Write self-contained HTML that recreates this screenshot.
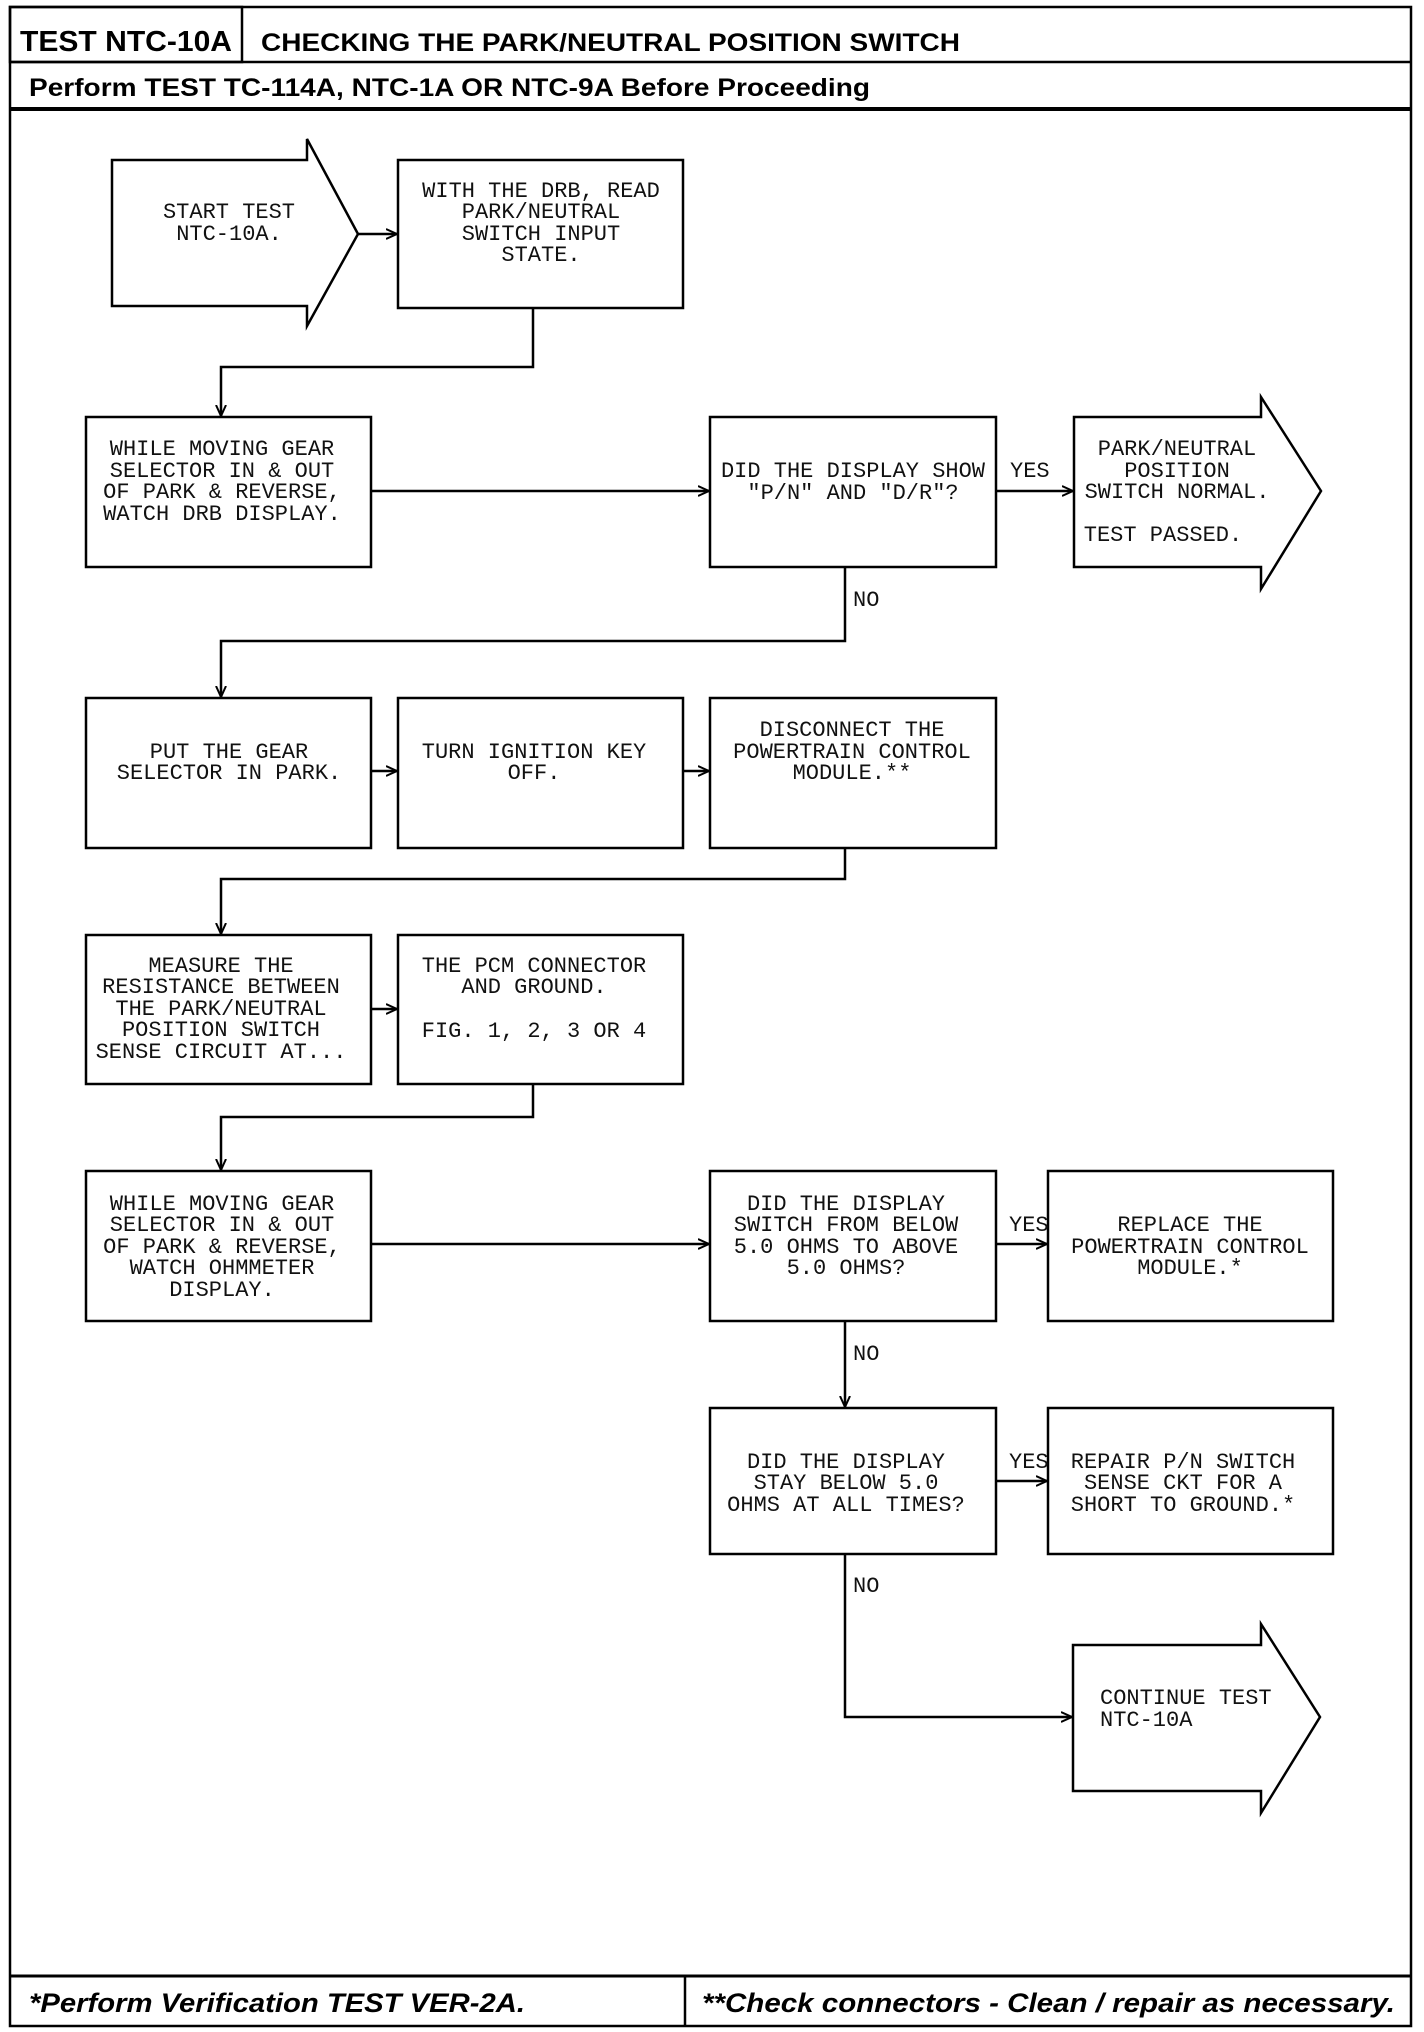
<!DOCTYPE html>
<html><head><meta charset="utf-8"><style>
html,body{margin:0;padding:0;background:#fff}
svg{display:block}
.t{font-family:"Liberation Mono",monospace;font-size:22px;fill:#111}
.h{font-family:"Liberation Sans",sans-serif;font-weight:bold;fill:#000}
.f{font-family:"Liberation Sans",sans-serif;font-weight:bold;font-style:italic;fill:#000;font-size:27px}
</style></head><body>
<svg width="1424" height="2032" viewBox="0 0 1424 2032" xmlns="http://www.w3.org/2000/svg">
<defs><marker id="a" markerWidth="12" markerHeight="12" refX="11" refY="6" orient="auto" markerUnits="userSpaceOnUse"><path d="M0,1 L11,6 L0,11" fill="none" stroke="#000" stroke-width="2"/></marker></defs>
<g fill="none" stroke="#000" stroke-width="2.5">
<rect x="10" y="7" width="1401" height="2019"/>
<rect x="10" y="7" width="232" height="55"/>
<line x1="10" y1="62" x2="1411" y2="62"/>
<line x1="10" y1="109" x2="1411" y2="109" stroke-width="4"/>
<line x1="10" y1="1976" x2="1411" y2="1976" stroke-width="3"/>
<line x1="685" y1="1976" x2="685" y2="2026"/>
<!-- start arrow -->
<path d="M112,160 H307 V139 L358,234 L307,326 V306 H112 Z"/>
<rect x="398" y="160" width="285" height="148"/>
<rect x="86" y="417" width="285" height="150"/>
<rect x="710" y="417" width="286" height="150"/>
<path d="M1074,417 H1261 V397 L1321,491 L1261,589 V567 H1074 Z"/>
<rect x="86" y="698" width="285" height="150"/>
<rect x="398" y="698" width="285" height="150"/>
<rect x="710" y="698" width="286" height="150"/>
<rect x="86" y="935" width="285" height="149"/>
<rect x="398" y="935" width="285" height="149"/>
<rect x="86" y="1171" width="285" height="150"/>
<rect x="710" y="1171" width="286" height="150"/>
<rect x="1048" y="1171" width="285" height="150"/>
<rect x="710" y="1408" width="286" height="146"/>
<rect x="1048" y="1408" width="285" height="146"/>
<path d="M1073,1645 H1261 V1624 L1320,1717 L1261,1813 V1791 H1073 Z"/>
</g>
<g fill="none" stroke="#000" stroke-width="2.5" marker-end="url(#a)">
<line x1="358" y1="234" x2="397" y2="234"/>
<polyline points="533,308 533,367 221,367 221,416"/>
<line x1="371" y1="491" x2="709" y2="491"/>
<line x1="996" y1="491" x2="1073" y2="491"/>
<polyline points="845,567 845,641 221,641 221,697"/>
<line x1="371" y1="771" x2="397" y2="771"/>
<line x1="683" y1="771" x2="709" y2="771"/>
<polyline points="845,848 845,879 221,879 221,934"/>
<line x1="371" y1="1009" x2="397" y2="1009"/>
<polyline points="533,1084 533,1117 221,1117 221,1170"/>
<line x1="371" y1="1244" x2="709" y2="1244"/>
<line x1="996" y1="1244" x2="1047" y2="1244"/>
<line x1="845" y1="1321" x2="845" y2="1407"/>
<line x1="996" y1="1481" x2="1047" y2="1481"/>
<polyline points="845,1554 845,1717 1072,1717"/>
</g>
<text class="h" x="20" y="51" font-size="29" textLength="212" lengthAdjust="spacingAndGlyphs">TEST NTC-10A</text>
<text class="h" x="261" y="51" font-size="25" textLength="699" lengthAdjust="spacingAndGlyphs">CHECKING THE PARK/NEUTRAL POSITION SWITCH</text>
<text class="h" x="29" y="96" font-size="25" textLength="841" lengthAdjust="spacingAndGlyphs">Perform TEST TC-114A, NTC-1A OR NTC-9A Before Proceeding</text>
<text class="f" x="29" y="2012" textLength="496" lengthAdjust="spacingAndGlyphs">*Perform Verification TEST VER-2A.</text>
<text class="f" x="702" y="2012" textLength="693" lengthAdjust="spacingAndGlyphs">**Check connectors - Clean / repair as necessary.</text>
<g class="t" text-anchor="middle">
<text x="229" y="218">START TEST</text><text x="229" y="240">NTC-10A.</text>
<text x="541" y="197">WITH THE DRB, READ</text><text x="541" y="218">PARK/NEUTRAL</text><text x="541" y="240">SWITCH INPUT</text><text x="541" y="261">STATE.</text>
<text x="222" y="455">WHILE MOVING GEAR</text><text x="222" y="477">SELECTOR IN &amp; OUT</text><text x="222" y="498">OF PARK &amp; REVERSE,</text><text x="222" y="520">WATCH DRB DISPLAY.</text>
<text x="853" y="477">DID THE DISPLAY SHOW</text><text x="853" y="499">"P/N" AND "D/R"?</text>
<text x="1177" y="455">PARK/NEUTRAL</text><text x="1177" y="477">POSITION</text><text x="1177" y="498">SWITCH NORMAL.</text><text x="1163" y="541">TEST PASSED.</text>
<text x="229" y="758">PUT THE GEAR</text><text x="229" y="779">SELECTOR IN PARK.</text>
<text x="534" y="758">TURN IGNITION KEY</text><text x="534" y="779">OFF.</text>
<text x="852" y="736">DISCONNECT THE</text><text x="852" y="758">POWERTRAIN CONTROL</text><text x="852" y="779">MODULE.**</text>
<text x="221" y="972">MEASURE THE</text><text x="221" y="993">RESISTANCE BETWEEN</text><text x="221" y="1015">THE PARK/NEUTRAL</text><text x="221" y="1036">POSITION SWITCH</text><text x="221" y="1058">SENSE CIRCUIT AT...</text>
<text x="534" y="972">THE PCM CONNECTOR</text><text x="534" y="993">AND GROUND.</text><text x="534" y="1037">FIG. 1, 2, 3 OR 4</text>
<text x="222" y="1210">WHILE MOVING GEAR</text><text x="222" y="1231">SELECTOR IN &amp; OUT</text><text x="222" y="1253">OF PARK &amp; REVERSE,</text><text x="222" y="1274">WATCH OHMMETER</text><text x="222" y="1296">DISPLAY.</text>
<text x="846" y="1210">DID THE DISPLAY</text><text x="846" y="1231">SWITCH FROM BELOW</text><text x="846" y="1253">5.0 OHMS TO ABOVE</text><text x="846" y="1274">5.0 OHMS?</text>
<text x="1190" y="1231">REPLACE THE</text><text x="1190" y="1253">POWERTRAIN CONTROL</text><text x="1190" y="1274">MODULE.*</text>
<text x="846" y="1468">DID THE DISPLAY</text><text x="846" y="1489">STAY BELOW 5.0</text><text x="846" y="1511">OHMS AT ALL TIMES?</text>
<text x="1183" y="1468">REPAIR P/N SWITCH</text><text x="1183" y="1489">SENSE CKT FOR A</text><text x="1183" y="1511">SHORT TO GROUND.*</text>
</g>
<g class="t">
<text x="1100" y="1704">CONTINUE TEST</text><text x="1100" y="1726">NTC-10A</text>
<text x="1010" y="477">YES</text>
<text x="1009" y="1231">YES</text>
<text x="1009" y="1468">YES</text>
<text x="853" y="606">NO</text>
<text x="853" y="1360">NO</text>
<text x="853" y="1592">NO</text>
</g>
</svg>
</body></html>
